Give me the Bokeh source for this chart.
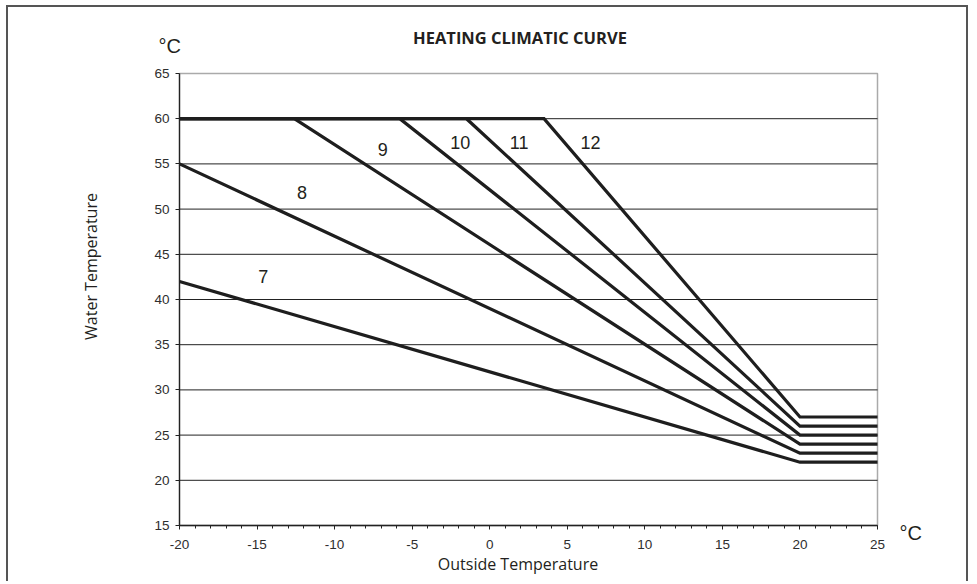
import math
from bokeh.plotting import figure
from bokeh.models import Range1d, SingleIntervalTicker, FixedTicker, Label, ColumnDataSource
from bokeh.core.properties import value
from bokeh.embed import file_html
from bokeh.resources import INLINE

# ---- data ----
curve_names = ["7", "8", "9", "10", "11", "12"]
curve_x = [
    [-20, 20, 25],
    [-20, 20, 25],
    [-20, -12.6, 20, 25],
    [-20, -5.8, 20, 25],
    [-20, -1.5, 20, 25],
    [-20, 3.5, 20, 25],
]
curve_y = [
    [42, 22, 22],
    [55, 23, 23],
    [60, 60, 24, 24],
    [60, 60, 25, 25],
    [60, 60, 26, 26],
    [60, 60, 27, 27],
]
label_x = [-14.6, -12.1, -6.9, -1.9, 1.9, 6.5]
label_y = [42.5, 51.8, 56.6, 57.4, 57.4, 57.4]
grid_levels = [20, 25, 30, 35, 40, 45, 50, 55, 60]
x_ticks = [-20, -15, -10, -5, 0, 5, 10, 15, 20, 25]
x_tick_labels = ["-20", "-15", "-10", "-5", "0", "5", "10", "15", "20", "25"]
y_ticks = [15, 20, 25, 30, 35, 40, 45, 50, 55, 60, 65]
y_tick_labels = ["15", "20", "25", "30", "35", "40", "45", "50", "55", "60", "65"]
x_min, x_max = -20, 25
y_min, y_max = 15, 65

title_text = "HEATING CLIMATIC CURVE"
x_title = "Outside Temperature"
y_title = "Water Temperature"
unit_text = "°C"

# ---- layout (pixels) ----
W, H = 962, 576
FRAME_L, FRAME_R = 171, 869      # plot-area pixel edges inside the canvas
FRAME_T, FRAME_B = 66, 518
TXT = "#231f20"

xs_per_px = (x_max - x_min) / (FRAME_R - FRAME_L)
ys_per_px = (y_max - y_min) / (FRAME_B - FRAME_T)
x_range = Range1d(x_min - FRAME_L * xs_per_px, x_max + (W - FRAME_R) * xs_per_px)
y_range = Range1d(y_min - (H - FRAME_B) * ys_per_px, y_max + FRAME_T * ys_per_px)

p = figure(width=W, height=H, output_backend="svg", toolbar_location=None,
           x_range=x_range, y_range=y_range, min_border=0)
p.styles = {"border": "2px solid #555555", "border-bottom": "none",
            "margin-left": "6px", "margin-top": "5px"}
p.background_fill_color = "white"
p.border_fill_color = "white"
p.outline_line_color = None
p.xgrid.visible = False
p.ygrid.visible = False

# plot-area frame (grey top/right) and horizontal grid lines
p.quad(left=[x_min], right=[x_max], bottom=[y_min], top=[y_max], fill_color=None,
       line_color="#aaaaaa", line_width=1.5)
p.segment(x0=[x_min] * len(grid_levels), x1=[x_max] * len(grid_levels),
          y0=grid_levels, y1=grid_levels, line_color="#222222", line_width=1)

# axes fixed at the plot-area edges
p.xaxis.fixed_location = y_min
p.yaxis.fixed_location = x_min
p.xaxis.bounds = (x_min, x_max)
p.yaxis.bounds = (y_min, y_max)
p.xaxis.ticker = SingleIntervalTicker(interval=5, num_minor_ticks=5)
p.yaxis.ticker = FixedTicker(ticks=y_ticks)
p.xaxis.major_label_overrides = dict(zip(x_ticks, x_tick_labels))
p.yaxis.major_label_overrides = dict(zip(y_ticks, y_tick_labels))
for ax in (p.xaxis, p.yaxis):
    ax.axis_line_color = "#222222"
    ax.axis_line_width = 1.3
    ax.major_tick_line_color = "#222222"
    ax.major_tick_in = 0
    ax.major_tick_out = 4
    ax.minor_tick_in = 0
    ax.major_label_text_font = "Liberation Sans"
    ax.major_label_text_font_size = "13.5px"
    ax.major_label_text_color = "#2e2e2e"
p.xaxis.minor_tick_out = 3
p.xaxis.minor_tick_line_color = "#222222"
p.yaxis.minor_tick_line_color = None
p.xaxis.major_label_standoff = 10
p.yaxis.major_label_standoff = 6

# curves
src = ColumnDataSource(dict(xs=curve_x, ys=curve_y, name=curve_names))
p.multi_line(xs="xs", ys="ys", source=src, line_color="#1e1e1e", line_width=3.2,
             line_join="miter")

lab_src = ColumnDataSource(dict(x=label_x, y=label_y, t=curve_names))
p.text(x="x", y="y", text="t", source=lab_src, text_font=value("Liberation Sans"),
       text_font_size="18px", text_color=TXT, text_align="center", text_baseline="middle")

# texts (screen units, from the bottom-left of the plotting canvas)
def add_label(x, y, text, **kw):
    p.add_layout(Label(x=x, y=y, x_units="screen", y_units="screen", text=text,
                       text_color=TXT, **kw))

add_label(511.5, H - 29.7, title_text, text_font="Open Sans", text_font_style="bold",
          text_font_size="16.5px", text_align="center", text_baseline="middle")
add_label(150, H - 38, unit_text, text_font="Liberation Sans", text_font_size="20px",
          text_align="left", text_baseline="middle")
add_label(891, H - 525, unit_text, text_font="Liberation Sans", text_font_size="20px",
          text_align="left", text_baseline="middle")
add_label(82, H - 259, y_title, angle=math.pi / 2, text_font="Open Sans",
          text_font_size="16px", text_align="center", text_baseline="middle")
add_label(509.5, H - 556, x_title, text_font="Open Sans", text_font_size="16px",
          text_align="center", text_baseline="middle")

open("out.html", "w").write(file_html(p, INLINE))
